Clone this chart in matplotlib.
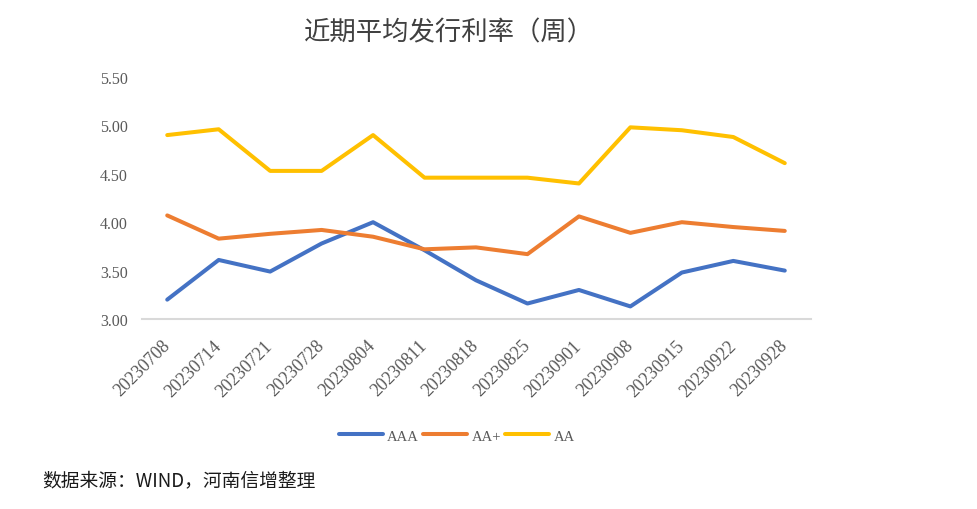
import matplotlib
matplotlib.use("Agg")
import matplotlib.pyplot as plt

dates = ["20230708", "20230714", "20230721", "20230728", "20230804", "20230811",
         "20230818", "20230825", "20230901", "20230908", "20230915", "20230922", "20230928"]
aaa = [3.20, 3.61, 3.49, 3.78, 4.00, 3.71, 3.40, 3.16, 3.30, 3.13, 3.48, 3.60, 3.50]
aa_plus = [4.07, 3.83, 3.88, 3.92, 3.85, 3.72, 3.74, 3.67, 4.06, 3.89, 4.00, 3.95, 3.91]
aa = [4.90, 4.96, 4.53, 4.53, 4.90, 4.46, 4.46, 4.46, 4.40, 4.98, 4.95, 4.88, 4.61]
series_names = ["AAA", "AA+", "AA"]
yticks = [3.00, 3.50, 4.00, 4.50, 5.00, 5.50]

title = "近期平均发行利率（周）"
source = "数据来源：WIND，河南信增整理"

colors = ["#4472C4", "#ED7D31", "#FFC000"]
serif = ["Liberation Serif", "DejaVu Serif"]
cjk = ["Noto Sans CJK SC", "DejaVu Sans"]
gray = "#595959"

fig = plt.figure(figsize=(9.77, 5.10), dpi=100)
ax = fig.add_axes([141.5 / 977, 1 - 320 / 510, (810.5 - 141.5) / 977, (320 - 78) / 510])

x = list(range(len(dates)))
for vals, name, c in zip([aaa, aa_plus, aa], series_names, colors):
    ax.plot(x, vals, color=c, lw=2.9, label=name, solid_capstyle="round", solid_joinstyle="round")

ax.set_xlim(-0.5, len(dates) - 0.5)
ax.set_ylim(3.0, 5.5)
ax.set_yticks(yticks)
ax.set_yticklabels([f"{v:.2f}" for v in yticks], fontfamily=serif, fontsize=11.5, color=gray)
ax.set_xticks(x)
ax.set_xticklabels(dates, rotation=45, ha="right", va="center", rotation_mode="anchor",
                   fontfamily=serif, fontsize=13, color=gray)
ax.tick_params(axis="both", length=0)
ax.tick_params(axis="y", pad=10)
ax.tick_params(axis="x", pad=17)

for s in ["top", "right", "left"]:
    ax.spines[s].set_visible(False)
ax.spines["bottom"].set_color("#D9D9D9")
ax.spines["bottom"].set_linewidth(1.5)
for l in ax.lines:
    l.set_clip_on(False)

fig.text(449 / 977, 1 - 33 / 510, title, fontfamily=cjk, fontsize=19, color="#404040",
         ha="center", va="center")

leg = fig.legend(loc="center", bbox_to_anchor=(457 / 977, 1 - 437 / 510), ncol=3, frameon=False,
                 prop={"family": serif, "size": 10.5}, handlelength=3.0, handletextpad=0.3,
                 columnspacing=0.3, borderaxespad=0)
for t in leg.get_texts():
    t.set_color(gray)

fig.text(42 / 977, 1 - 481 / 510, source, fontfamily=cjk, fontsize=13.5, color="#1a1a1a",
         ha="left", va="center")

fig.savefig("out.png", dpi=100)
